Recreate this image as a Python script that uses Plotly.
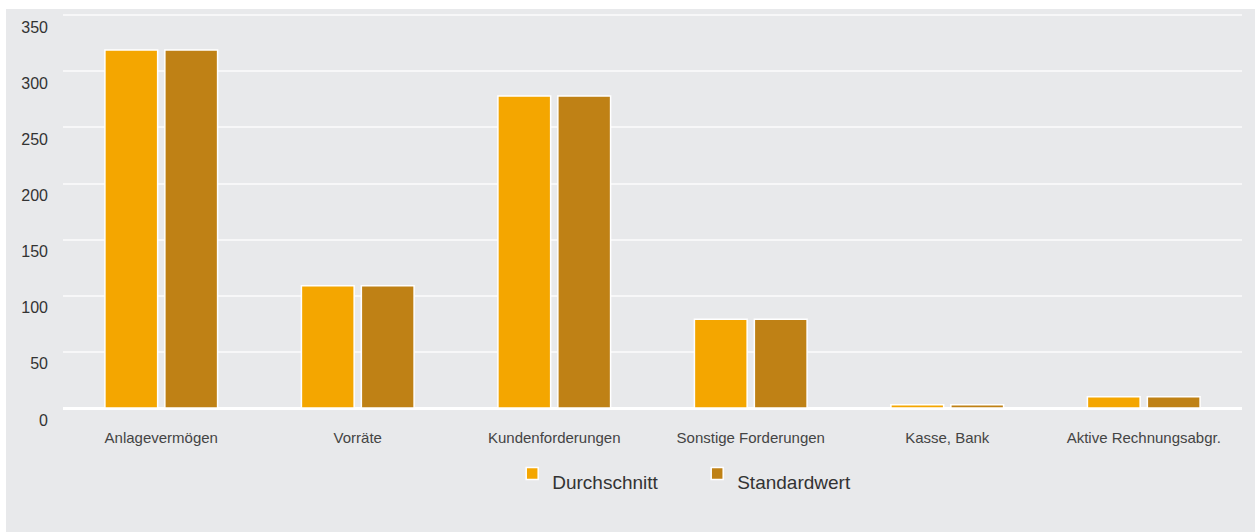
import plotly.graph_objects as go

categories = ["Anlagevermögen", "Vorräte", "Kundenforderungen", "Sonstige Forderungen", "Kasse, Bank", "Aktive Rechnungsabgr."]
durchschnitt = [319, 109, 278, 79, 3, 10]
standardwert = [319, 109, 278, 79, 3, 10]
y_ticks = [0, 50, 100, 150, 200, 250, 300, 350]

FONT = "Liberation Sans, Arial, sans-serif"
BG = "#e8e9eb"

fig = go.Figure()
fig.add_trace(go.Bar(x=categories, y=durchschnitt, name="<br><span style='font-size:19px'>Durchschnitt</span>",
                     marker=dict(color="#f4a600", line=dict(color="white", width=1.5))))
fig.add_trace(go.Bar(x=categories, y=standardwert, name="<br><span style='font-size:19px'>Standardwert</span>",
                     marker=dict(color="#bf8115", line=dict(color="white", width=1.5))))

fig.update_layout(
    width=1249, height=523,
    margin=dict(l=57, r=13, t=5, b=124),
    paper_bgcolor=BG, plot_bgcolor=BG,
    font=dict(family=FONT, color="#444"),
    barmode="group", bargap=0.39, bargroupgap=0.12,
    showlegend=True,
    legend=dict(orientation="h", x=0.381, xanchor="left", y=-0.135, yanchor="top",
                valign="top", font=dict(size=9, color="#333"), bgcolor="rgba(0,0,0,0)",
                entrywidth=140, itemwidth=30),
    xaxis=dict(showgrid=False, tickfont=dict(size=15, color="#444"), ticklabelstandoff=19,
               showline=False, zeroline=False),
    yaxis=dict(range=[0, 351], tickvals=y_ticks, tickfont=dict(size=16, color="#333"),
               gridcolor="#f7f7f8", gridwidth=1.5, zeroline=True, zerolinecolor="white", zerolinewidth=3,
               ticklabelshift=12, ticklabelstandoff=14),
)

fig.write_html("out.html", post_script="document.body.style.margin='9px 0 0 6px';document.body.style.overflow='hidden';")
